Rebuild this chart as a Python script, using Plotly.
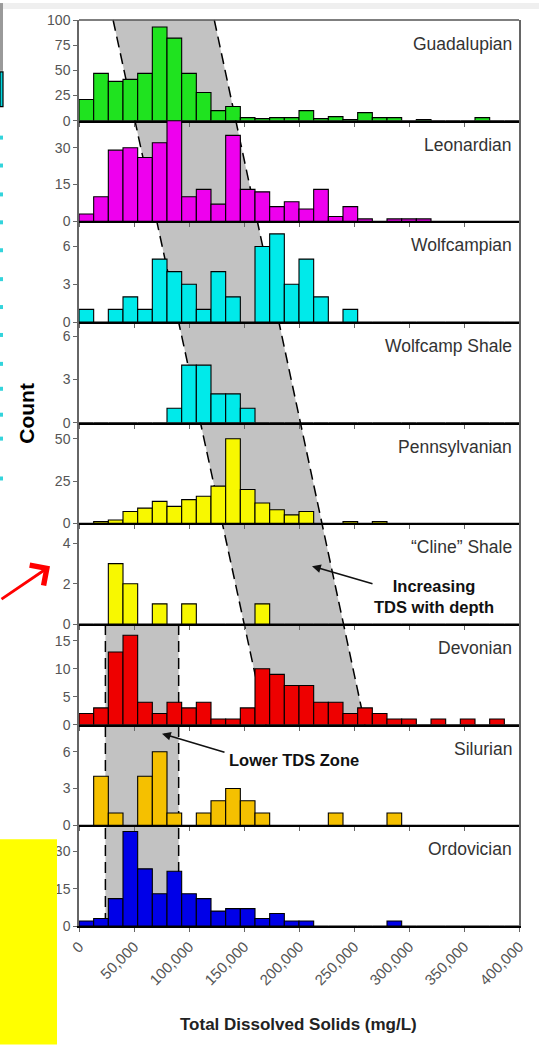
import plotly.graph_objects as go
from plotly.subplots import make_subplots

# ---------------- data ----------------
X_MIN, X_MAX = 0, 400000
N_BINS = 30
BIN_W = (X_MAX - X_MIN) / N_BINS
bin_centers = [X_MIN + BIN_W * (i + 0.5) for i in range(N_BINS)]

x_tickvals = [0, 50000, 100000, 150000, 200000, 250000, 300000, 350000, 400000]
x_ticktext = ["0", "50,000", "100,000", "150,000", "200,000", "250,000", "300,000", "350,000", "400,000"]

formations = ["Guadalupian", "Leonardian", "Wolfcampian", "Wolfcamp Shale", "Pennsylvanian",
              "\u201cCline\u201d Shale", "Devonian", "Silurian", "Ordovician"]

guadalupian = [21, 47, 39, 41, 47, 93, 82, 47, 28, 10, 14, 3, 2, 3, 3, 10, 2, 4, 1, 8, 3, 3, 0, 1, 0, 0, 0, 3, 0, 0]
leonardian = [3, 10, 29, 30, 26, 32, 41, 10, 13, 7, 35, 13, 12, 6, 8, 5, 13, 2, 6, 1, 0, 1, 1, 1, 0, 0, 0, 0, 0, 0]
wolfcampian = [1, 0, 1, 2, 1, 5, 4, 3, 1, 4, 2, 0, 6, 7, 3, 5, 2, 0, 1, 0, 0, 0, 0, 0, 0, 0, 0, 0, 0, 0]
wolfcamp_shale = [0, 0, 0, 0, 0, 0, 1, 4, 4, 2, 2, 1, 0, 0, 0, 0, 0, 0, 0, 0, 0, 0, 0, 0, 0, 0, 0, 0, 0, 0]
pennsylvanian = [0, 1, 2, 7, 9, 13, 10, 14, 16, 22, 50, 20, 12, 8, 5, 7, 0, 0, 1, 0, 1, 0, 0, 0, 0, 0, 0, 0, 0, 0]
cline_shale = [0, 0, 3, 2, 0, 1, 0, 1, 0, 0, 0, 0, 1, 0, 0, 0, 0, 0, 0, 0, 0, 0, 0, 0, 0, 0, 0, 0, 0, 0]
devonian = [2, 3, 13, 16, 4, 2, 4, 3, 4, 1, 1, 3, 10, 9, 7, 7, 4, 4, 2, 3, 2, 1, 1, 0, 1, 0, 1, 0, 1, 0]
silurian = [0, 4, 1, 0, 4, 6, 1, 0, 1, 2, 3, 2, 1, 0, 0, 0, 0, 1, 0, 0, 0, 1, 0, 0, 0, 0, 0, 0, 0, 0]
ordovician = [2, 3, 11, 38, 23, 13, 22, 13, 11, 6, 7, 7, 3, 5, 2, 2, 0, 0, 0, 0, 0, 2, 0, 0, 0, 0, 0, 0, 0, 0]

series = [guadalupian, leonardian, wolfcampian, wolfcamp_shale, pennsylvanian,
          cline_shale, devonian, silurian, ordovician]

y_max = [100, 41, 8, 7, 59.5, 5, 18, 8.2, 40.5]
y_ticks = [[0, 25, 50, 75, 100], [0, 15, 30], [0, 3, 6], [0, 3, 6], [0, 25, 50],
           [0, 2, 4], [0, 5, 10, 15], [0, 3, 6], [0, 15, 30]]

colors = ["#1fe31f", "#ee00ee", "#00eaea", "#00eaea", "#f8f800",
          "#f8f800", "#ee0000", "#f5c000", "#0000e8"]

# grey bands (TDS values)
BAND_TOP = (31000, 123000)      # left / right edge at top of Guadalupian
BAND_BOTTOM = (170000, 260000)  # left / right edge at base of Devonian
LOW_BAND = (24000, 90600)       # lower TDS zone (Devonian - Ordovician)

# ---------------- layout helpers ----------------
W, H = 539, 1045
ML, MR, MT, MB = 79, 20, 17, 119
PW, PH = W - ML - MR, H - MT - MB


def fx(px):
    return (px - ML) / PW


def fy(py):
    return (H - MB - py) / PH


FONT = "Arial, Liberation Sans, Helvetica, sans-serif"
NP = len(series)

fig = make_subplots(rows=NP, cols=1, shared_xaxes=True, vertical_spacing=0)

for i, vals in enumerate(series):
    fig.add_trace(go.Bar(x=bin_centers, y=vals, width=BIN_W,
                         marker=dict(color=colors[i], line=dict(color="black", width=1.1)),
                         showlegend=False, hoverinfo="skip"),
                  row=i + 1, col=1)
    fig.update_yaxes(range=[0, y_max[i]], tickvals=y_ticks[i], ticks="outside", ticklen=4,
                     tickcolor="#666", showline=True, linecolor="#666", linewidth=1.5,
                     mirror=True, showgrid=False, zeroline=False,
                     tickfont=dict(family=FONT, size=14, color="#555"),
                     row=i + 1, col=1)

fig.update_xaxes(range=[X_MIN, X_MAX], tickvals=x_tickvals, ticks="outside", ticklen=4,
                 tickcolor="#666", showline=True, linecolor="black", linewidth=2,
                 showgrid=False, zeroline=False)
fig.update_xaxes(ticktext=x_ticktext, tickangle=-45,
                 tickfont=dict(family=FONT, size=15, color="#555"), row=NP, col=1)

shapes = []
# increasing-TDS band
shapes.append(dict(type="path", xref="x", yref="paper", layer="below",
                   path=f"M {BAND_TOP[0]},1 L {BAND_TOP[1]},1 L {BAND_BOTTOM[1]},{2/9} L {BAND_BOTTOM[0]},{2/9} Z",
                   fillcolor="#c2c2c2", line=dict(width=0)))
for k in range(2):
    shapes.append(dict(type="line", xref="x", yref="paper", layer="below",
                       x0=BAND_TOP[k], y0=1, x1=BAND_BOTTOM[k], y1=2 / 9,
                       line=dict(color="black", width=1.5, dash="11px,6px")))
# lower TDS zone
shapes.append(dict(type="rect", xref="x", yref="paper", layer="below",
                   x0=LOW_BAND[0], x1=LOW_BAND[1], y0=0, y1=3 / 9,
                   fillcolor="#c2c2c2", line=dict(width=0)))
for k in range(2):
    shapes.append(dict(type="line", xref="x", yref="paper", layer="below",
                       x0=LOW_BAND[k], y0=3 / 9, x1=LOW_BAND[k], y1=0,
                       line=dict(color="black", width=1.5, dash="11px,6px")))
# top border
shapes.append(dict(type="line", xref="paper", yref="paper", x0=0, x1=1, y0=1, y1=1,
                   line=dict(color="#555", width=1.5)))

# screenshot decorations
shapes.append(dict(type="rect", xref="paper", yref="paper", layer="below",
                   x0=fx(0), x1=fx(W), y0=fy(6), y1=fy(0), fillcolor="#efefef", line=dict(width=0)))
shapes.append(dict(type="rect", xref="paper", yref="paper", layer="above",
                   x0=fx(0), x1=fx(3), y0=fy(68), y1=fy(0), fillcolor="#9a9a9a", line=dict(width=0)))
shapes.append(dict(type="rect", xref="paper", yref="paper", layer="above",
                   x0=fx(0), x1=fx(3), y0=fy(104), y1=fy(69), fillcolor="#00d8e0",
                   line=dict(color="black", width=1.2)))
for py in [135, 163, 192, 220, 248, 277, 305, 333, 362, 387, 413, 437, 477]:
    shapes.append(dict(type="rect", xref="paper", yref="paper", layer="above",
                       x0=fx(0), x1=fx(3), y0=fy(py + 2), y1=fy(py - 2),
                       fillcolor="#33d4dc", line=dict(width=0)))
shapes.append(dict(type="rect", xref="paper", yref="paper", layer="above",
                   x0=fx(0), x1=fx(57), y0=fy(1045), y1=fy(839),
                   fillcolor="#ffff00", line=dict(width=0)))

annotations = []
for i, name in enumerate(formations):
    top_py = MT + PH * i / NP
    annotations.append(dict(text=name, xref="paper", yref="paper", x=fx(514), y=fy(top_py + 24),
                            xanchor="right", yanchor="middle", showarrow=False,
                            font=dict(family=FONT, size=17.5, color="#333")))

annotations.append(dict(text="Count", xref="paper", yref="paper", x=fx(27), y=fy(412),
                        textangle=-90, showarrow=False, xanchor="center", yanchor="middle",
                        font=dict(family=FONT, size=21, color="black", weight="bold")))
annotations.append(dict(text="Total Dissolved Solids (mg/L)", xref="paper", yref="paper",
                        x=fx(298), y=fy(1025), showarrow=False, xanchor="center", yanchor="middle",
                        font=dict(family=FONT, size=17, color="#222", weight="bold")))

annotations.append(dict(text="Increasing<br>TDS with depth", xref="paper", yref="paper",
                        x=fx(434), y=fy(595), showarrow=False, xanchor="center", yanchor="middle",
                        align="center",
                        font=dict(family=FONT, size=16.5, color="#111", weight="bold")))
annotations.append(dict(text="", xref="paper", yref="paper", x=fx(312), y=fy(565),
                        ax=62, ay=18, showarrow=True, arrowhead=2, arrowsize=1.1,
                        arrowwidth=1.6, arrowcolor="#111"))
annotations.append(dict(text="Lower TDS Zone", xref="paper", yref="paper",
                        x=fx(294), y=fy(759), showarrow=False, xanchor="center", yanchor="middle",
                        font=dict(family=FONT, size=16.5, color="#111", weight="bold")))
annotations.append(dict(text="", xref="paper", yref="paper", x=fx(162), y=fy(733),
                        ax=64, ay=19, showarrow=True, arrowhead=2, arrowsize=1.1,
                        arrowwidth=1.6, arrowcolor="#111"))
annotations.append(dict(text="", xref="paper", yref="paper", x=fx(50), y=fy(565),
                        ax=-50, ay=34, showarrow=True, arrowhead=4, arrowsize=1.7,
                        arrowwidth=2.8, arrowcolor="#ff0000"))

fig.update_layout(width=W, height=H, margin=dict(l=ML, r=MR, t=MT, b=MB),
                  paper_bgcolor="white", plot_bgcolor="rgba(0,0,0,0)",
                  shapes=shapes, annotations=annotations, showlegend=False,
                  font=dict(family=FONT))

fig.write_html("out.html")
